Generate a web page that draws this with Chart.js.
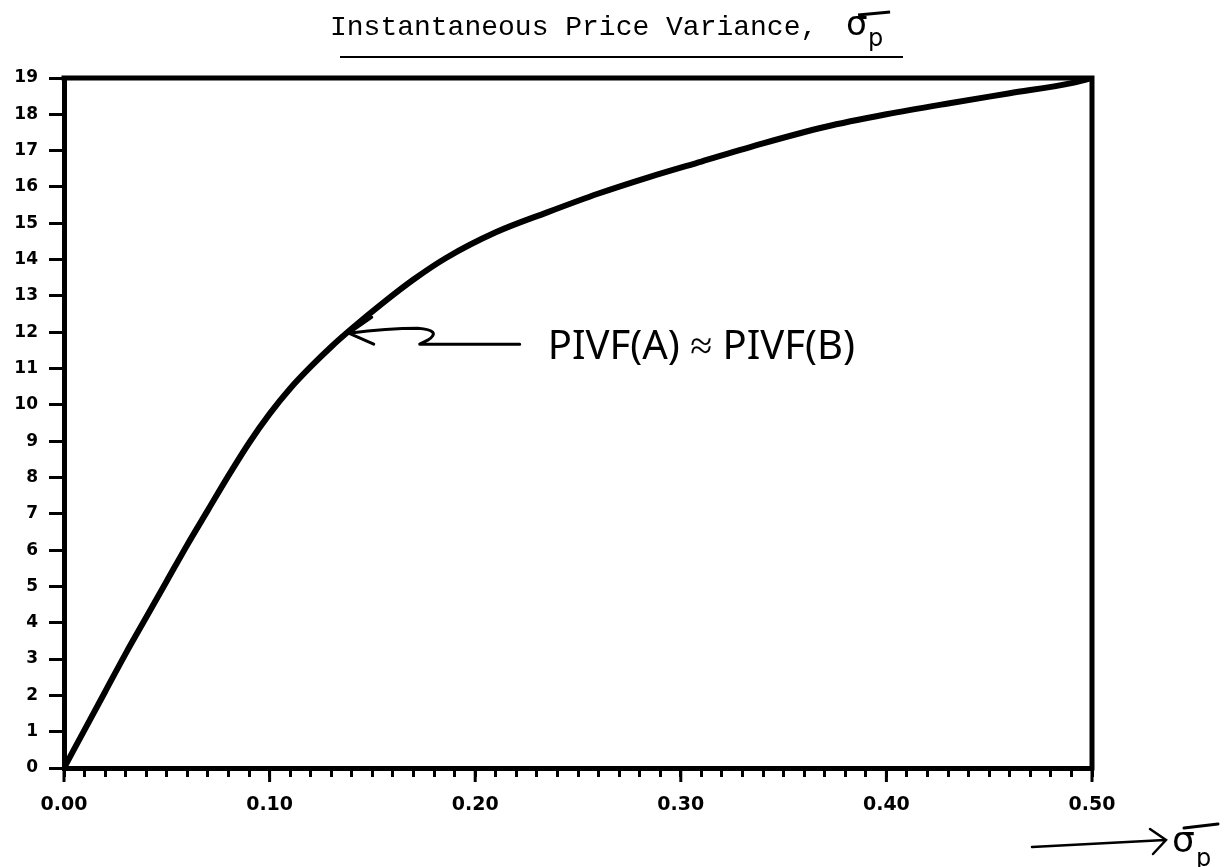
<!DOCTYPE html>
<html lang="en">
<head>
<meta charset="UTF-8">
<title>Instantaneous Price Variance</title>
<script src="https://cdn.jsdelivr.net/npm/chart.js"></script>
<style>
  body { margin: 0; background: #fff; }
  canvas { display: block; }
</style>
</head>
<body>
<canvas id="chart" width="1232" height="867"></canvas>
<script>
// values
var sigmaP = [0, 0.01, 0.02, 0.03, 0.04, 0.05, 0.06, 0.07, 0.08, 0.09, 0.10, 0.11, 0.12, 0.13, 0.14, 0.155, 0.17, 0.186, 0.21, 0.235, 0.26, 0.285, 0.31, 0.34, 0.37, 0.40, 0.43, 0.46, 0.49, 0.50];
var curveValues = [0, 1.05, 2.1, 3.15, 4.15, 5.15, 6.15, 7.1, 8.05, 8.95, 9.75, 10.45, 11.05, 11.6, 12.1, 12.8, 13.45, 14.05, 14.75, 15.3, 15.82, 16.28, 16.7, 17.2, 17.65, 18.0, 18.3, 18.58, 18.86, 19];
var xTickLabels = ['0.00', '0.10', '0.20', '0.30', '0.40', '0.50'];
var yMax = 19;
var noteText = 'PIVF(A) \u2248 PIVF(B)';
var notePoint = [0.138, 12.0]; // where the arrow points

// title, frame, long ticks, note and arrow
var extras = {
  id: 'extras',
  afterDraw: function (chart) {
    var ctx = chart.ctx, a = chart.chartArea;
    var xs = chart.scales.x, ys = chart.scales.y;
    ctx.save();
    ctx.strokeStyle = '#000';
    ctx.fillStyle = '#000';

    // top and right side of the box
    ctx.lineWidth = 5;
    ctx.lineCap = 'square';
    ctx.beginPath();
    ctx.moveTo(a.left, a.top);
    ctx.lineTo(a.right, a.top);
    ctx.lineTo(a.right, a.bottom);
    ctx.stroke();

    // longer ticks at the labelled values
    ctx.lineWidth = 3;
    ctx.lineCap = 'butt';
    xTickLabels.forEach(function (t) {
      var px = xs.getPixelForValue(parseFloat(t));
      ctx.beginPath();
      ctx.moveTo(px, a.bottom);
      ctx.lineTo(px, a.bottom + 14);
      ctx.stroke();
    });

    // title
    ctx.font = '28px "Liberation Mono"';
    ctx.textBaseline = 'alphabetic';
    ctx.textAlign = 'left';
    var tx = 330;
    ctx.fillText('Instantaneous Price Variance,', tx, 35);
    var sx = tx + ctx.measureText('Instantaneous Price Variance, ').width + 12;
    ctx.font = '34px "DejaVu Sans"';
    ctx.fillText('\u03c3', sx, 35);
    ctx.font = '24px "DejaVu Sans"';
    ctx.fillText('p', sx + 22, 46);
    ctx.lineWidth = 3;
    ctx.beginPath();
    ctx.moveTo(sx + 12, 15);
    ctx.lineTo(sx + 44, 12);
    ctx.stroke();
    ctx.lineWidth = 2;
    ctx.beginPath();
    ctx.moveTo(340, 57);
    ctx.lineTo(903, 57);
    ctx.stroke();

    // axis name at bottom right
    ctx.lineWidth = 2.5;
    ctx.lineCap = 'round';
    ctx.beginPath();
    ctx.moveTo(1032, 847);
    ctx.lineTo(1165, 840);
    ctx.moveTo(1150, 829);
    ctx.lineTo(1166, 840);
    ctx.lineTo(1153, 854);
    ctx.stroke();
    ctx.font = '36px "DejaVu Sans"';
    ctx.fillText('\u03c3', 1172, 852);
    ctx.font = '24px "DejaVu Sans"';
    ctx.fillText('p', 1196, 866);
    ctx.lineWidth = 3;
    ctx.beginPath();
    ctx.moveTo(1184, 828);
    ctx.lineTo(1218, 824);
    ctx.stroke();

    // note with squiggly arrow
    var px = xs.getPixelForValue(notePoint[0]);
    var py = ys.getPixelForValue(notePoint[1]);
    ctx.lineWidth = 3;
    ctx.lineCap = 'round';
    ctx.lineJoin = 'round';
    ctx.beginPath();
    ctx.moveTo(px + 1, py + 1);
    ctx.quadraticCurveTo(px + 40, py - 4, px + 70, py - 4);
    ctx.quadraticCurveTo(px + 95, py - 2, px + 80, py + 8);
    ctx.lineTo(px + 72, py + 12);
    ctx.lineTo(px + 172, py + 12);
    ctx.moveTo(px + 24, py - 15);
    ctx.lineTo(px + 1, py + 1);
    ctx.lineTo(px + 26, py + 12);
    ctx.stroke();
    ctx.font = '40px "Noto Sans"';
    ctx.textBaseline = 'middle';
    ctx.fillText(noteText, px + 200, py + 15);

    ctx.restore();
  }
};

new Chart(document.getElementById('chart'), {
  type: 'line',
  data: {
    datasets: [{
      data: sigmaP.map(function (x, i) { return { x: x, y: curveValues[i] }; }),
      borderColor: '#000',
      borderWidth: 6,
      pointRadius: 0,
      fill: false,
      cubicInterpolationMode: 'monotone'
    }]
  },
  options: {
    responsive: false,
    animation: false,
    layout: { padding: { top: 78, right: 140, left: 0, bottom: 0 } },
    plugins: { legend: { display: false }, tooltip: { enabled: false } },
    scales: {
      x: {
        type: 'linear',
        min: 0,
        max: 0.5,
        afterBuildTicks: function (s) {
          var t = [];
          for (var i = 0; i <= 50; i++) t.push({ value: i / 100 });
          s.ticks = t;
        },
        afterFit: function (s) { s.height = 99; },
        border: { display: true, width: 5, color: '#000' },
        grid: { drawOnChartArea: false, drawTicks: true, tickLength: 9, lineWidth: 3, color: '#000' },
        ticks: {
          autoSkip: false,
          maxRotation: 0,
          padding: 17,
          color: '#000',
          font: { family: 'DejaVu Sans', weight: 'bold', size: 19 },
          callback: function (v) {
            var s = v.toFixed(2);
            return xTickLabels.indexOf(s) >= 0 ? s : '';
          }
        }
      },
      y: {
        min: 0,
        max: yMax,
        afterFit: function (s) { s.width = 64; },
        border: { display: true, width: 5, color: '#000' },
        grid: { drawOnChartArea: false, drawTicks: true, tickLength: 15, lineWidth: 3, color: '#000' },
        ticks: { stepSize: 1, padding: 11, color: '#000', font: { family: 'DejaVu Sans', weight: 'bold', size: 17 } }
      }
    }
  },
  plugins: [extras]
});
</script>
</body>
</html>
